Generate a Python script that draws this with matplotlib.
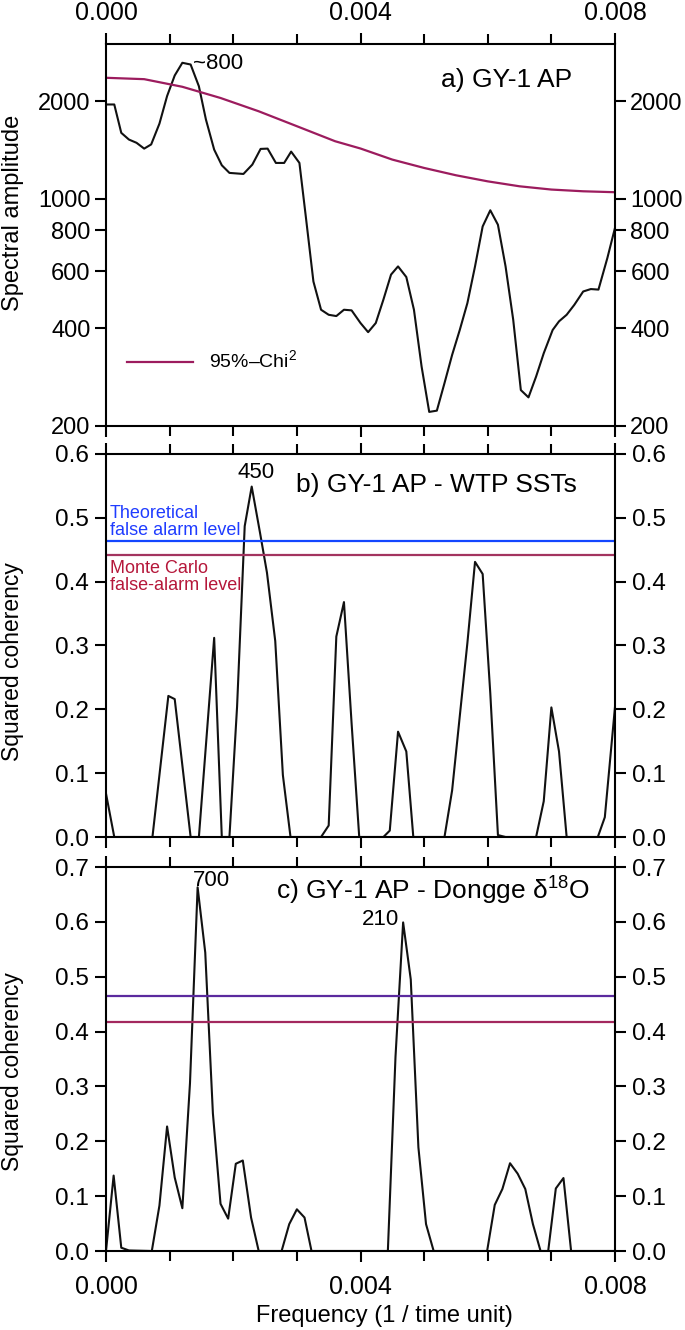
import numpy as np
import matplotlib
matplotlib.use('Agg')
import matplotlib.pyplot as plt
from matplotlib.ticker import FixedLocator, MultipleLocator, NullLocator

plt.rcParams['font.family'] = ['Liberation Sans', 'DejaVu Sans']
plt.rcParams['mathtext.fontset'] = 'custom'
plt.rcParams['mathtext.rm'] = 'Liberation Sans'

# a) spectral amplitude
fa = [0, 0.00013, 0.00024, 0.00036, 0.00048, 0.0006, 0.00071, 0.00084, 0.00096, 0.00108,
      0.0012, 0.00133, 0.00146, 0.00157, 0.0017, 0.00182, 0.00194, 0.00216, 0.0023, 0.00243,
      0.00254, 0.00267, 0.0028, 0.00291, 0.00304, 0.00314, 0.00326, 0.00338, 0.0035, 0.00362,
      0.00374, 0.00386, 0.004, 0.00412, 0.00424, 0.00436, 0.00448, 0.00459, 0.00472, 0.00484,
      0.00496, 0.00508, 0.0052, 0.00532, 0.00544, 0.00556, 0.00568, 0.0058, 0.00592, 0.00604,
      0.00616, 0.00628, 0.0064, 0.00652, 0.00664, 0.00676, 0.00688, 0.00702, 0.00712, 0.00724,
      0.00736, 0.0075, 0.00762, 0.00774, 0.00788, 0.008]
amp = [1954, 1954, 1598, 1524, 1489, 1429, 1472, 1706, 2074, 2400,
       2626, 2594, 2223, 1758, 1419, 1270, 1203, 1194, 1276, 1426,
       1429, 1291, 1291, 1399, 1291, 884, 557, 456, 440, 436,
       456, 454, 415, 389, 415, 490, 585, 620, 575, 456,
       305, 221, 223, 271, 331, 395, 478, 620, 823, 923,
       833, 620, 425, 258, 245, 284, 335, 395, 420, 440,
       472, 519, 528, 526, 658, 815]
fchi = [0, 0.0006, 0.0012, 0.0018, 0.0024, 0.003, 0.0036, 0.004, 0.0045, 0.005,
        0.0055, 0.006, 0.0065, 0.007, 0.0075, 0.008]
chi = [2361, 2338, 2215, 2046, 1862, 1675, 1506, 1430, 1322, 1246,
       1183, 1133, 1094, 1069, 1056, 1049]

# b) coherency with WTP SSTs
fb = [0, 0.00013, 0.00073, 0.00098, 0.00108, 0.00133, 0.00146, 0.0017, 0.00182, 0.00194,
      0.00206, 0.00218, 0.00229, 0.00242, 0.00253, 0.00266, 0.00278, 0.0029, 0.00338, 0.0035,
      0.00362, 0.00374, 0.00386, 0.00398, 0.00436, 0.00446, 0.00459, 0.00472, 0.00483, 0.00532,
      0.00544, 0.00556, 0.00568, 0.0058, 0.00592, 0.00604, 0.00616, 0.00628, 0.00676, 0.00688,
      0.007, 0.00712, 0.00724, 0.00773, 0.00784, 0.008]
cohb = [0.068, 0, 0, 0.221, 0.216, 0, 0, 0.312, 0, 0,
        0.204, 0.487, 0.549, 0.477, 0.414, 0.307, 0.097, 0, 0, 0.018,
        0.314, 0.368, 0.178, 0, 0, 0.010, 0.165, 0.134, 0, 0,
        0.073, 0.189, 0.304, 0.431, 0.412, 0.225, 0.003, 0, 0, 0.056,
        0.203, 0.134, 0, 0, 0.031, 0.204]
theo_b = 0.463
mc_b = 0.441

# c) coherency with Dongge d18O
fc = [0, 0.00012, 0.00024, 0.00036, 0.00072, 0.00084, 0.00096, 0.00108, 0.0012, 0.00132,
      0.00144, 0.00156, 0.00168, 0.0018, 0.00192, 0.00204, 0.00215, 0.00228, 0.0024, 0.00276,
      0.00288, 0.003, 0.00312, 0.00323, 0.00443, 0.00455, 0.00467, 0.00479, 0.00491, 0.00503,
      0.00515, 0.00599, 0.00611, 0.00623, 0.00635, 0.00647, 0.00659, 0.00671, 0.00683, 0.00695,
      0.00707, 0.00719, 0.00731, 0.008]
cohc = [0, 0.1375, 0.006, 0.001, 0, 0.083, 0.227, 0.134, 0.078, 0.306,
        0.663, 0.544, 0.251, 0.086, 0.059, 0.159, 0.165, 0.061, 0, 0,
        0.049, 0.076, 0.061, 0, 0, 0.354, 0.599, 0.495, 0.189, 0.049,
        0, 0, 0.084, 0.113, 0.160, 0.141, 0.113, 0.049, 0, 0,
        0.114, 0.133, 0, 0]
theo_c = 0.4645
mc_c = 0.4175

fig = plt.figure(figsize=(6.85, 13.3), dpi=100)
L, W = 106/685, 509/685
axa = fig.add_axes([L, 1-426/1330, W, 382/1330])
axb = fig.add_axes([L, 1-837/1330, W, 383/1330])
axc = fig.add_axes([L, 1-1251/1330, W, 384/1330])

def style(ax):
    ax.set_xlim(0, 0.008)
    ax.xaxis.set_major_locator(FixedLocator([0, 0.004, 0.008]))
    ax.xaxis.set_minor_locator(MultipleLocator(0.001))
    ax.xaxis.set_major_formatter(plt.FuncFormatter(lambda v, p: '%.3f' % v))
    ax.tick_params(which='both', direction='out', top=True, right=True, labelright=True,
                   width=1.5, color='black')
    ax.tick_params(which='major', length=8)
    ax.tick_params(which='minor', length=7)
    ax.tick_params(axis='y', labelsize=17.5, pad=4)
    ax.tick_params(axis='x', labelsize=18, pad=7, labelbottom=False, labeltop=False)
    for s in ax.spines.values():
        s.set_linewidth(1.5)

# panel a
style(axa)
axa.set_yscale('log')
axa.set_ylim(200, 3000)
axa.plot(fa, amp, color='#111111', lw=1.5)
axa.plot(fchi, chi, color='#9c1c5e', lw=1.6, label='95%–Chi$^2$')
axa.yaxis.set_major_locator(FixedLocator([200, 400, 600, 800, 1000, 2000]))
axa.yaxis.set_minor_locator(NullLocator())
axa.yaxis.set_major_formatter(plt.FuncFormatter(lambda v, p: '%d' % v))
axa.tick_params(axis='x', labeltop=True, pad=6)
axa.tick_params(axis='y', labelsize=17, pad=3)
axa.set_ylabel('Spectral amplitude', fontsize=17)
axa.yaxis.set_label_coords(-0.161, 0.557)
axa.text(0.171, 0.95, '~800', transform=axa.transAxes, fontsize=16, ha='left', va='center')
axa.text(0.9155, 0.906, 'a) GY-1 AP', transform=axa.transAxes, fontsize=19, ha='right', va='center')
axa.legend(loc='center left', bbox_to_anchor=(0.041, 0.17), frameon=False, fontsize=14,
           handlelength=3.4, handletextpad=0.8, borderpad=0, borderaxespad=0)

# panel b
style(axb)
axb.set_ylim(0, 0.6)
axb.yaxis.set_major_locator(MultipleLocator(0.1))
axb.yaxis.set_major_formatter(plt.FuncFormatter(lambda v, p: '%.1f' % v))
axb.plot(fb, cohb, color='#111111', lw=1.5)
axb.axhline(theo_b, color='#1446ff', lw=1.6)
axb.axhline(mc_b, color='#a3345f', lw=1.6)
axb.set_ylabel('Squared coherency', fontsize=16.5)
axb.yaxis.set_label_coords(-0.161, 0.457)
axb.text(0.259, 0.953, '450', transform=axb.transAxes, fontsize=16, ha='left', va='center')
axb.text(0.925, 0.919, 'b) GY-1 AP - WTP SSTs', transform=axb.transAxes, fontsize=19,
         ha='right', va='center')
axb.text(0.008, 0.822, 'Theoretical\nfalse alarm level', transform=axb.transAxes, fontsize=13,
         color='#1f3cff', ha='left', va='center', linespacing=0.95)
axb.text(0.008, 0.679, 'Monte Carlo\nfalse-alarm level', transform=axb.transAxes, fontsize=13,
         color='#b5173a', ha='left', va='center', linespacing=0.95)

# panel c
style(axc)
axc.set_ylim(0, 0.7)
axc.yaxis.set_major_locator(MultipleLocator(0.1))
axc.yaxis.set_major_formatter(plt.FuncFormatter(lambda v, p: '%.1f' % v))
axc.plot(fc, cohc, color='#111111', lw=1.5)
axc.axhline(theo_c, color='#5b2a9e', lw=1.6)
axc.axhline(mc_c, color='#a3285e', lw=1.6)
axc.tick_params(axis='x', labelbottom=True, pad=9)
axc.set_ylabel('Squared coherency', fontsize=16.5)
axc.yaxis.set_label_coords(-0.161, 0.466)
axc.set_xlabel('Frequency (1 / time unit)', fontsize=17)
axc.xaxis.set_label_coords(0.548, -0.141)
axc.text(0.171, 0.966, '700', transform=axc.transAxes, fontsize=16, ha='left', va='center')
axc.text(0.576, 0.862, '210', transform=axc.transAxes, fontsize=16, ha='right', va='center')
axc.text(0.951, 0.94, 'c) GY-1 AP - Dongge δ$^{18}$O', transform=axc.transAxes, fontsize=19,
         ha='right', va='center')

fig.savefig('out.png', dpi=100)
